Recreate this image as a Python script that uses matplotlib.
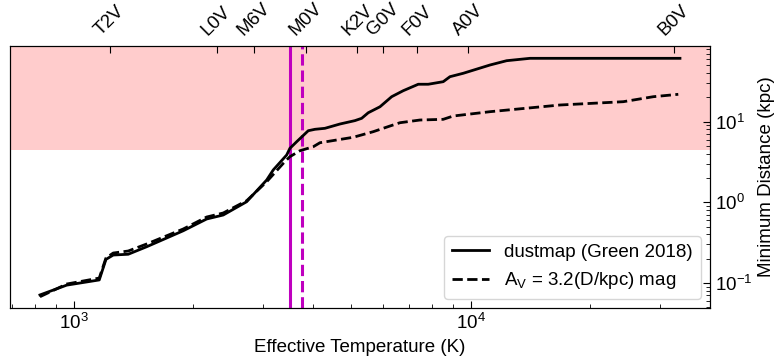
import numpy as np
import matplotlib
matplotlib.use("Agg")
import matplotlib.pyplot as plt

plt.rcParams['font.family'] = ['Liberation Sans', 'DejaVu Sans']
plt.rcParams['mathtext.fontset'] = 'custom'
plt.rcParams['mathtext.rm'] = 'Liberation Sans'
plt.rcParams['mathtext.it'] = 'Liberation Sans:italic'
plt.rcParams['axes.unicode_minus'] = False
plt.rcParams['font.size'] = 13.5

# dustmap (Green 2018) minimum distance vs effective temperature
teff_dust = [821, 959, 1158, 1204, 1256, 1370, 1524, 1885, 2159, 2377, 2723,
             3058, 3177, 3434, 3499, 3639, 3892, 4047, 4287, 4677, 5102, 5305,
             5512, 5900, 6314, 6752, 7367, 7806, 8514, 8853, 9563, 11166,
             12300, 14081, 33610]
dist_dust = [0.071, 0.094, 0.109, 0.196, 0.222, 0.227, 0.281, 0.444, 0.621,
             0.696, 1.017, 1.89, 2.52, 3.86, 4.67, 5.64, 7.72, 8.04, 8.27,
             9.35, 10.3, 11.0, 12.9, 15.3, 20.4, 24.2, 29.1, 29.1, 31.3, 36.1,
             39.8, 50.4, 57.0, 61.0, 61.0]

# simple extinction law A_V = 3.2 (D/kpc)
teff_av = [821, 959, 1158, 1204, 1256, 1370, 1524, 1885, 2159, 2377, 2723,
           3058, 3367, 3499, 3709, 4007, 4165, 5051, 5673, 6252, 6624, 7438,
           8514, 9024, 11166, 16760, 24190, 28790, 33280]
dist_av = [0.0675, 0.097, 0.115, 0.204, 0.235, 0.249, 0.304, 0.467, 0.657,
           0.737, 1.047, 1.80, 3.04, 3.68, 4.36, 4.89, 5.48, 6.40, 7.51, 8.83,
           9.70, 10.48, 10.69, 11.75, 13.29, 16.09, 17.68, 20.39, 21.83]

# spectral types along the top axis
spt_labels = ['T2V', 'L0V', 'M6V', 'M0V', 'K2V', 'G0V', 'F0V', 'A0V', 'B0V']
spt_teff = [1232, 2286, 2841, 3851, 5176, 6020, 7330, 9856, 32400]

teff_limit_dust = 3500
teff_limit_av = 3750
dist_limit = 4.4

fig = plt.figure(figsize=(7.79, 3.64), dpi=100)
ax = fig.add_axes([0.0128, 0.1538, 0.8986, 0.7198])

# region beyond the distance limit
ax.axhspan(dist_limit, 1000, color='r', alpha=0.2, lw=0, zorder=0)
ax.axvline(teff_limit_dust, color='m', lw=2.2, zorder=1)
ax.axvline(teff_limit_av, color='m', lw=2.2, ls='--', zorder=1)

ax.plot(teff_dust, dist_dust, 'k-', lw=2, label='dustmap (Green 2018)', zorder=2)
ax.plot(teff_av, dist_av, 'k--', lw=2, label=r'A$_\mathrm{V}$ = 3.2(D/kpc) mag', zorder=2)

ax.set_xscale('log')
ax.set_yscale('log')
ax.set_xlim(690, 40000)
ax.set_ylim(0.0489, 86.7)

ax.yaxis.tick_right()
ax.yaxis.set_label_position('right')
ax.tick_params(which='both', direction='in', left=False, right=True, top=False)
ax.tick_params(which='major', length=5)
ax.tick_params(which='minor', length=3)
ax.set_xlabel('Effective Temperature (K)')
ax.set_ylabel('Minimum Distance (kpc)')

ax.legend(loc='lower right', fontsize=13.5)

# top axis with spectral type markers
ax2 = ax.twiny()
ax2.set_xscale('log')
ax2.set_xlim(ax.get_xlim())
ax2.set_xticks(spt_teff)
ax2.set_xticklabels(spt_labels, rotation=45, ha='center')
ax2.xaxis.set_minor_locator(matplotlib.ticker.NullLocator())
ax2.tick_params(which='major', direction='in', length=5, pad=5)

fig.savefig('out.png', dpi=100)
